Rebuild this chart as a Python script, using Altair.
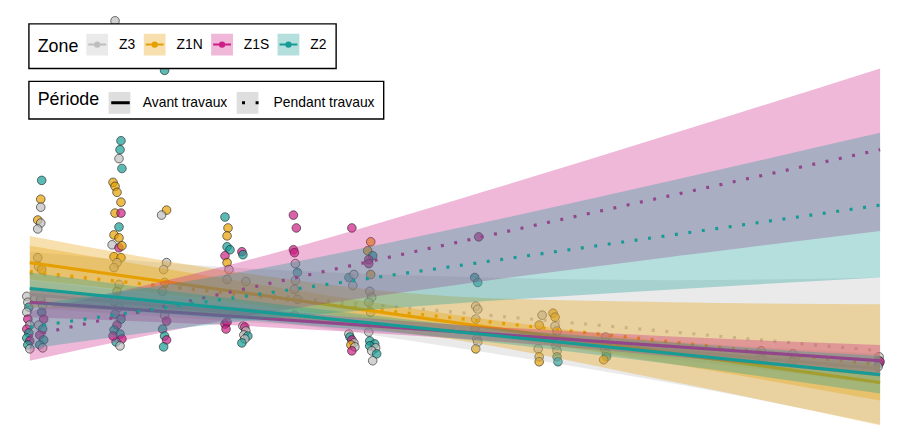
import altair as alt
import pandas as pd

FONT = "Liberation Sans"

zones = ["Z3", "Z1N", "Z1S", "Z2"]
zone_colors = ["#BEBEBE", "#E69F00", "#CC1F85", "#179C95"]
# the same colours as a light tint (legend key backgrounds)
zone_tints = ["#EAEAEA", "#F7E0AD", "#EFB7D8", "#B5DFDD"]
periodes = ["Avant travaux", "Pendant travaux"]
# same colours, listed in another order for the point / ribbon scale
pt_zone_order = ["Z1N", "Z3", "Z2", "Z1S"]
pt_zone_colors = ["#E69F00", "#BEBEBE", "#179C95", "#CC1F85"]

# ---- observations (jour, valeur, zone) ----
pt_jour = [1.5, 1.38, 1.38, 1.0, 1.38, 1.0, 1.0, 1.12, 1.5,
           -0.38, -0.25, -0.12, -0.38, -0.25, 0.0, -0.38, -0.12, -0.38, 0.0, -0.25, 0.0,
           1.38, 1.62, 1.5, 1.75, 1.12, 1.62, 1.25, 1.75, 1.25, 1.62,
           10.75, 11.5, 11.38, 11.25, 11.62, 10.5, 10.75, 11.0, 11.5, 10.75, 11.5, 11.25,
           10.62, 11.25, 10.38, 11.25, 11.62, 10.62, 11.5, 11.0, 10.62, 11.25, 11.0,
           10.62, 11.25, 10.75, 11.5, 11.0, 10.62, 11.38, 11.62, 10.88, 11.38, 10.5,
           17.0, 17.25, 16.62, 17.25, 16.88, 17.0, 16.75, 17.0, 17.25, 16.75, 17.0, 17.25, 16.88,
           24.62, 25.0, 24.88, 24.88, 25.25, 24.62, 24.88, 25.12, 24.88, 24.62, 24.88, 24.75,
           26.75, 26.88, 27.25, 26.88, 27.12, 27.25, 27.0, 27.5, 27.12, 26.75,
           33.25, 33.62, 33.25, 33.38, 33.5, 33.75, 33.5, 33.38, 33.75, 33.38,
           40.62, 40.25, 40.88, 40.75, 40.25, 40.38, 40.62, 40.88, 40.5, 41.0, 40.62,
           43.0, 42.62, 43.25, 42.75, 42.75, 43.0, 42.88, 43.12, 42.75, 43.0,
           42.75, 42.88, 43.5, 42.88, 43.62, 43.12, 43.75, 43.25,
           56.62, 56.12, 56.5, 56.25, 56.5, 56.25, 56.12, 56.38, 56.5, 56.25,
           64.62, 66.0, 66.25, 64.25, 66.25, 66.5, 66.12, 66.38, 66.5, 66.5, 66.62, 64.12, 64.25, 64.25,
           72.62, 72.5, 72.75, 72.75, 72.38,
           92.25, 92.12, 92.38,
           96.25, 96.5, 96.12,
           107.12, 107.12, 107.12, 107.25, 107.0]
pt_val = [62.5, 57.75, 55.75, 52.5, 51.75, 50.25, 43.0, 40.75, 40.0,
          33.25, 31.75, 30.5, 29.25, 27.5, 26.0, 25.0, 24.0, 22.75, 22.0, 21.0, 20.0,
          32.5, 31.0, 29.25, 27.5, 26.0, 25.0, 23.5, 22.25, 21.0, 20.25,
          102.75, 72.5, 70.25, 68.0, 65.5, 62.0, 61.0, 59.5, 57.0, 54.25, 54.25, 50.75,
          48.75, 48.0, 46.25, 45.5, 46.0, 43.25, 43.0, 41.75, 40.5, 36.25, 34.5,
          32.0, 30.5, 28.75, 27.5, 26.0, 24.75, 23.75, 22.5, 21.75, 20.75, 23.25,
          90.25, 55.0, 53.75, 41.75, 40.0, 36.75, 34.5, 28.5, 27.0, 25.0, 23.25, 22.25, 20.5,
          53.25, 50.5, 48.5, 45.75, 45.0, 43.5, 41.75, 40.0, 37.5, 26.25, 26.75, 25.0,
          44.5, 43.75, 37.0, 25.75, 25.5, 24.5, 23.5, 23.25, 22.5, 21.5,
          53.75, 50.5, 45.0, 44.25, 41.5, 39.25, 37.25, 35.0, 32.5, 28.5,
          50.5, 38.0, 38.75, 36.0, 23.75, 23.0, 22.25, 21.5, 21.0, 20.5, 19.5,
          47.0, 44.75, 43.5, 42.5, 41.5, 38.75, 34.5, 33.0, 31.75, 29.25,
          24.25, 22.0, 21.25, 20.75, 20.25, 19.5, 18.75, 17.0,
          48.25, 38.0, 36.75, 30.75, 30.0, 27.5, 25.0, 22.5, 21.75, 20.0,
          28.5, 29.0, 28.0, 26.0, 25.75, 24.5, 22.5, 20.75, 19.5, 18.0, 16.75, 20.0, 18.0, 16.75,
          23.0, 20.0, 18.75, 18.0, 17.25,
          19.5, 18.25, 17.5,
          18.75, 17.5, 16.75,
          18.0, 17.0, 16.25, 16.75, 15.5]
pt_zone = ["Z2", "Z1N", "Z3", "Z1N", "Z3", "Z3", "Z3", "Z3", "Z1N",
           "Z3", "Z3", "Z2", "Z3", "Z1S", "Z3", "Z1S", "Z2", "Z2", "Z1S", "Z2", "Z3",
           "Z3", "Z3", "Z2", "Z1S", "Z3", "Z2", "Z1S", "Z2", "Z2", "Z3",
           "Z3", "Z2", "Z2", "Z3", "Z2", "Z1N", "Z1N", "Z1N", "Z1N", "Z1N", "Z1S", "Z2",
           "Z1N", "Z1N", "Z3", "Z1S", "Z1N", "Z1N", "Z1N", "Z3", "Z3", "Z3", "Z1N",
           "Z3", "Z3", "Z2", "Z2", "Z1S", "Z2", "Z2", "Z1S", "Z2", "Z3", "Z1S",
           "Z2", "Z1N", "Z3", "Z3", "Z3", "Z1N", "Z3", "Z3", "Z1S", "Z2", "Z2", "Z1S", "Z2",
           "Z2", "Z1N", "Z1N", "Z2", "Z2", "Z1S", "Z1N", "Z3", "Z3", "Z1S", "Z1S", "Z1S",
           "Z1S", "Z2", "Z3", "Z3", "Z1S", "Z3", "Z3", "Z2", "Z3", "Z2",
           "Z1S", "Z1S", "Z1S", "Z1S", "Z3", "Z2", "Z3", "Z3", "Z3", "Z3",
           "Z1S", "Z2", "Z3", "Z3", "Z3", "Z2", "Z1S", "Z3", "Z1N", "Z3", "Z1S",
           "Z1N", "Z1N", "Z2", "Z1S", "Z1S", "Z1N", "Z3", "Z3", "Z3", "Z3",
           "Z3", "Z2", "Z2", "Z2", "Z3", "Z3", "Z2", "Z3",
           "Z1S", "Z2", "Z2", "Z3", "Z3", "Z3", "Z3", "Z3", "Z3", "Z1N",
           "Z3", "Z1N", "Z1N", "Z1N", "Z3", "Z3", "Z3", "Z3", "Z3", "Z2", "Z2", "Z3", "Z1N", "Z1N",
           "Z3", "Z3", "Z3", "Z2", "Z1N",
           "Z3", "Z3", "Z3",
           "Z3", "Z3", "Z3",
           "Z3", "Z3", "Z2", "Z1S", "Z3"]

# ---- confidence bands (read at five positions) ----
band_jour = [0, 27, 54, 81, 107.25]
z3_av_haut = [37.25, 31.3, 25.8, 21.85, 18.75]
z3_av_bas = [30.25, 26.8, 22.8, 17.35, 11.25]
z3_pe_haut = [44.5, 40.35, 38.2, 37.3, 38.0]
z3_pe_bas = [33.5, 27.85, 20.2, 11.3, 1.0]
z1n_av_haut = [46.0, 36.9, 28.5, 21.65, 16.0]
z1n_av_bas = [37.5, 31.4, 24.5, 16.15, 7.0]
z1n_pe_haut = [48.5, 39.1, 33.15, 31.75, 31.25]
z1n_pe_bas = [30.5, 28.1, 22.15, 11.75, 0.75]
z1s_av_haut = [35.5, 30.3, 26.1, 23.1, 21.0]
z1s_av_bas = [28.0, 25.8, 22.6, 18.1, 13.0]
z1s_pe_haut = [29.5, 42.1, 57.7, 74.25, 90.75]
z1s_pe_bas = [17.0, 28.1, 36.2, 43.25, 49.75]
z2_av_haut = [39.25, 32.3, 26.05, 21.6, 18.25]
z2_av_bas = [31.25, 27.3, 22.55, 16.1, 8.75]
z2_pe_haut = [31.0, 39.5, 50.5, 62.5, 74.5]
z2_pe_bas = [20.0, 27.0, 31.5, 35.0, 38.0]

# ---- fitted lines (start, end) ----
line_jour = [0, 107.25]
z3_av_line = [33.75, 15.0]
z3_pe_line = [39.0, 19.5]
z1n_av_line = [41.75, 11.5]
z1n_pe_line = [39.5, 16.0]
z1s_av_line = [31.75, 17.0]
z1s_pe_line = [23.25, 70.25]
z2_av_line = [35.25, 13.5]
z2_pe_line = [25.5, 56.25]

band_sets = {
    "Z3": [(z3_av_bas, z3_av_haut), (z3_pe_bas, z3_pe_haut)],
    "Z1N": [(z1n_av_bas, z1n_av_haut), (z1n_pe_bas, z1n_pe_haut)],
    "Z1S": [(z1s_av_bas, z1s_av_haut), (z1s_pe_bas, z1s_pe_haut)],
    "Z2": [(z2_av_bas, z2_av_haut), (z2_pe_bas, z2_pe_haut)],
}
line_sets = {
    "Z3": [z3_av_line, z3_pe_line],
    "Z1N": [z1n_av_line, z1n_pe_line],
    "Z1S": [z1s_av_line, z1s_pe_line],
    "Z2": [z2_av_line, z2_pe_line],
}

pts = pd.DataFrame({"jour": pt_jour, "valeur": pt_val, "zone": pt_zone})

xs = alt.Scale(domain=[0, 107.25], nice=False, zero=False)
ys = alt.Scale(domain=[0, 103], nice=False, zero=False)

# legend key: tinted square (its outline hidden by the dash gap),
# then a line with a dot
ZPATH = ("M-1,0V-1H1V1H-1V0H-0.82H0.82H0.2"
         "A0.2,0.2 0 1,0 -0.2,0A0.2,0.2 0 1,0 0.2,0"
         "H0.08A0.08,0.08 0 1,0 -0.08,0A0.08,0.08 0 1,0 0.08,0")

base_style = dict(titleOrient="left", titleAnchor="middle",
                  titleFont=FONT, titleFontSize=18, titleFontWeight="normal",
                  titleColor="black",
                  labelFont=FONT, labelFontSize=14, labelColor="black",
                  labelOffset=10, padding=9, symbolSize=484)

zone_legend = alt.Legend(title="Zone", orient="none", legendX=-1, legendY=4,
                         direction="horizontal", strokeColor="black", fillColor="white",
                         titlePadding=6, columnPadding=4,
                         symbolType=ZPATH, symbolStrokeWidth=2,
                         symbolDash=[1000, 90], symbolDashOffset=1000, symbolOpacity=1,
                         **base_style)

per_legend = alt.Legend(title="Période", orient="none", legendX=-1, legendY=62,
                        direction="horizontal", strokeColor="black",
                        titlePadding=8, columnPadding=8,
                        symbolType="M-0.85,0H0.85", symbolStrokeWidth=3,
                        symbolStrokeColor="black", **base_style)

# grey key backgrounds of the "Période" legend (no text of its own)
per_bg_legend = alt.Legend(title=None, orient="none", legendX=78, legendY=71,
                           direction="horizontal", padding=0, labelExpr="''",
                           labelOffset=0, columnPadding=94.2,
                           symbolType="square", symbolSize=484, symbolStrokeWidth=3,
                           symbolStrokeColor="transparent", symbolFillColor="#DEDEDE",
                           values=periodes)

color_pts = alt.Color("zone:N", scale=alt.Scale(domain=pt_zone_order, range=pt_zone_colors),
                      legend=None)

points = alt.Chart(pts).mark_circle(
    size=76, fillOpacity=0.7, stroke="#1a1a1a", strokeWidth=0.75, strokeOpacity=0.8
).encode(
    x=alt.X("jour:Q", scale=xs, axis=None),
    y=alt.Y("valeur:Q", scale=ys, axis=None),
    color=color_pts,
)

all_lines = []
layers = [points]
for z in zones:
    brow = []
    for (bas, haut), per in zip(band_sets[z], periodes):
        for j, lo, hi in zip(band_jour, bas, haut):
            brow.append({"jour": j, "bas": lo, "haut": hi, "zone": z, "periode_bg": per})
    bdf = pd.DataFrame(brow)
    band = alt.Chart(bdf).mark_area(interpolate="monotone", fillOpacity=0.32).encode(
        x=alt.X("jour:Q", scale=xs, axis=None),
        y=alt.Y("bas:Q", scale=ys, axis=None),
        y2="haut:Q",
        color=color_pts,
        opacity=alt.Opacity("periode_bg:N",
                            scale=alt.Scale(domain=periodes[::-1], range=[1, 1]),
                            legend=per_bg_legend),
    )
    lrow = []
    for vals, per in zip(line_sets[z], periodes):
        for j, v in zip(line_jour, vals):
            lrow.append({"jour": j, "valeur": v, "zone_l": z, "periode": per})
    all_lines += lrow
    ldf = pd.DataFrame(lrow)
    line = alt.Chart(ldf).mark_line(strokeWidth=3.2).encode(
        x=alt.X("jour:Q", scale=xs, axis=None),
        y=alt.Y("valeur:Q", scale=ys, axis=None),
        stroke=alt.Stroke("zone_l:N", scale=alt.Scale(domain=zones, range=zone_colors),
                          legend=zone_legend),
        strokeDash=alt.StrokeDash("periode:N",
                                  scale=alt.Scale(domain=periodes, range=[[1, 0], [3, 10.7]]),
                                  legend=per_legend),
    )
    layers += [band, line]

# zero-height area along the fitted lines: carries the tinted key backgrounds
tint = alt.Chart(pd.DataFrame(all_lines)).mark_area().encode(
    x=alt.X("jour:Q", scale=xs, axis=None),
    y=alt.Y("valeur:Q", scale=ys, axis=None),
    y2="valeur:Q",
    detail="periode:N",
    fill=alt.Fill("zone_l:N", scale=alt.Scale(domain=zones, range=zone_tints),
                  legend=zone_legend),
)
layers.insert(1, tint)

chart = alt.layer(*layers).properties(
    width=858, height=412,
    padding={"left": 22, "top": 10, "right": 12, "bottom": 8},
    autosize=alt.AutoSizeParams(type="none"),
    background="white",
).configure_view(strokeWidth=0).configure_legend(strokeWidth=1.4)

chart.save("out.html", embed_options={"renderer": "svg", "actions": False})
